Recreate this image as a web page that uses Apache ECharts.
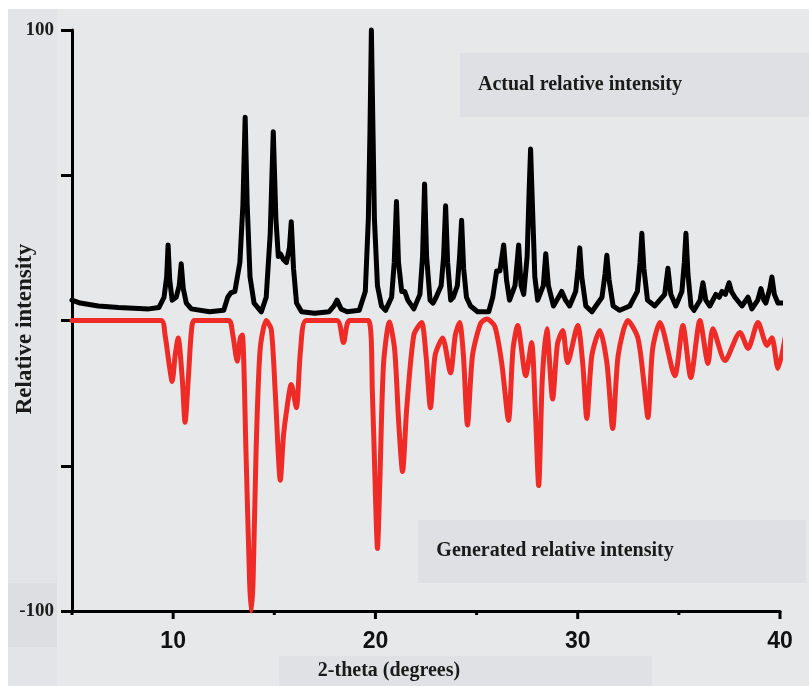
<!DOCTYPE html>
<html>
<head>
<meta charset="utf-8">
<script src="https://cdn.jsdelivr.net/npm/echarts@6/dist/echarts.min.js"></script>
<style>
html,body{margin:0;padding:0;background:#e7e8ea;}
#chart{width:809px;height:686px;}
</style>
</head>
<body>
<div id="chart"></div>
<script>
// 2-theta positions (degrees) and relative intensities
var actualIntensity = [
[5.0,7],[5.4,6],[6.3,5],[7.3,4.5],[8.8,4],[9.3,4.5],
[9.55,8],[9.68,15],[9.75,26],[9.83,14],[9.95,7],
[10.15,8],[10.3,12],[10.4,19.5],[10.5,11],[10.65,6],[10.9,4],
[11.8,3],[12.5,3.5],[12.7,8],[12.85,9.5],[13.05,10],
[13.3,20],[13.45,40],[13.56,70],[13.66,40],[13.8,15],[14.0,6],[14.36,3],
[14.6,8],[14.8,30],[14.95,65],[15.08,35],[15.2,22],[15.3,23],[15.45,21],[15.6,20],
[15.75,25],[15.84,34],[15.95,18],[16.1,6],[16.35,3],
[17.0,2.5],[17.7,3],[17.95,5],[18.1,7],[18.3,4],[18.6,3],[19.2,3.5],
[19.5,10],[19.65,35],[19.73,65],[19.8,100],[19.88,65],[19.95,35],[20.1,12],[20.3,5],[20.5,3.5],
[20.8,8],[20.93,20],[21.04,41],[21.14,20],[21.3,10],[21.45,10],[21.6,7],[21.9,4],
[22.2,9],[22.33,22],[22.43,47],[22.53,22],[22.7,7],[22.85,6],[23.0,8],
[23.25,12],[23.37,22],[23.47,39.5],[23.57,20],[23.72,7],[23.85,8],
[24.05,12],[24.16,22],[24.26,34.5],[24.36,18],[24.5,8],[24.7,5],[25.05,3],[25.6,3],
[25.8,8],[25.99,17],[26.15,17],[26.34,26],[26.48,14],[26.63,7],
[26.9,12],[27.08,26],[27.2,12],[27.33,9],
[27.5,22],[27.6,45],[27.67,59],[27.76,40],[27.88,15],[28.02,7],
[28.3,12],[28.42,23],[28.55,12],[28.8,5],
[29.05,8],[29.21,10],[29.4,7],[29.6,5],
[29.9,10],[30.02,18],[30.1,25],[30.2,15],[30.4,5],[30.7,3],
[31.2,8],[31.35,16],[31.44,22.5],[31.55,14],[31.75,5],[32.08,3.5],[32.57,5],
[32.95,10],[33.08,20],[33.17,30],[33.27,18],[33.45,7],[33.81,5],
[34.3,9],[34.46,18],[34.6,9],[34.85,5],
[35.15,10],[35.27,20],[35.35,30],[35.45,16],[35.6,5],[35.75,3.5],
[36.05,7],[36.19,13],[36.33,7],[36.53,5],[36.83,9],[37.0,8],[37.13,10],[37.3,9],[37.48,13],[37.6,10],[37.77,8],[38.12,5],[38.42,8],[38.61,4],
[38.9,7],[39.06,11],[39.2,7],[39.3,6],[39.5,11],[39.6,15],[39.72,9],[39.9,6],[40.3,6]
];
var generatedIntensity = [
[5,0],[9.4,0],[9.6,-5],[9.8,-15],[9.95,-21],[10.1,-12],[10.25,-6],[10.45,-20],[10.59,-35],[10.75,-20],[10.9,-4],[11.05,0],[12.75,0],[12.95,-5],[13.17,-14],[13.32,-6],[13.42,-5],[13.6,-45],[13.78,-90],[13.86,-100],[13.95,-90],[14.1,-45],[14.3,-10],[14.6,0],[14.85,-3],[15.05,-25],[15.3,-55],[15.45,-40],[15.59,-32],[15.84,-22],[16.09,-30],[16.3,-10],[16.58,0],[18.1,0],[18.42,-7.6],[18.71,0],[19.65,0],[19.85,-25],[20.0,-60],[20.1,-78.5],[20.22,-55],[20.4,-15],[20.69,-0.5],[20.95,-10],[21.15,-35],[21.34,-52],[21.55,-30],[21.9,-5],[22.28,-0.7],[22.5,-12],[22.72,-30],[22.95,-12],[23.32,-6],[23.71,-18],[23.95,-5],[24.16,-0.7],[24.35,-12],[24.55,-36],[24.8,-12],[25.2,-1],[25.5,0.5],[25.9,-2],[26.25,-15],[26.58,-34.4],[26.8,-10],[27.03,-1.7],[27.43,-19],[27.72,-7.6],[27.9,-30],[28.07,-56.8],[28.25,-20],[28.47,-2.8],[28.76,-27],[29.0,-8],[29.26,-3.4],[29.5,-14.5],[30.0,-1.7],[30.25,-15],[30.45,-33.7],[30.7,-12],[31.09,-3.4],[31.45,-15],[31.73,-37.2],[32.0,-12],[32.48,0],[32.97,-5.9],[33.25,-20],[33.47,-33.4],[33.7,-10],[34.06,-0.7],[34.8,-19],[35.2,-1.7],[35.59,-19.6],[36.04,0],[36.44,-14.8],[36.68,-2.8],[37.28,-13.8],[38.02,-4.1],[38.42,-9.6],[38.91,-0.7],[39.36,-8.6],[39.6,-5.9],[39.9,-16.5],[40.3,-4.1]
];
var xMajorTicks = [10, 20, 30, 40];
var xMinorTicks = [5, 15, 25, 35];
var yLabelValues = [100, -100];
var yMin = -100, yMax = 100;
var yAxisTitle = 'Relative intensity';
var xAxisTitle = '2-theta (degrees)';
var actualLabel = 'Actual relative intensity';
var generatedLabel = 'Generated relative intensity';

function tickRenderer(len) {
  return function (params, api) {
    var p = api.coord([api.value(0), yMin]);
    return {
      type: 'line',
      shape: {x1: p[0], y1: p[1], x2: p[0], y2: p[1] + len},
      style: {stroke: '#000', lineWidth: 3}
    };
  };
}

var chart = echarts.init(document.getElementById('chart'), null, {renderer: 'canvas'});
var serifBold = 'bold 20px "Liberation Serif", "Times New Roman", serif';
chart.setOption({
  backgroundColor: '#e7e8ea',
  animation: false,
  grid: {left: 72, right: 29, top: 30, bottom: 75},
  xAxis: {
    type: 'value', min: 5, max: 40, position: 'bottom',
    axisLine: {show: true, onZero: false, lineStyle: {color: '#000', width: 3}},
    axisTick: {show: false},
    axisLabel: {customValues: xMajorTicks, margin: 19, color: '#111',
      fontFamily: '"Liberation Sans", Arial, sans-serif', fontWeight: 'bold', fontSize: 23},
    splitLine: {show: false}
  },
  yAxis: {
    type: 'value', min: yMin, max: yMax, interval: 50,
    axisLine: {show: true, lineStyle: {color: '#000', width: 3}},
    axisTick: {show: true, length: 11, lineStyle: {color: '#000', width: 3}},
    axisLabel: {margin: 18, color: '#1c1c1c', fontFamily: '"Liberation Serif", "Times New Roman", serif',
      fontWeight: 'bold', fontSize: 19,
      formatter: function (v) { return yLabelValues.indexOf(v) >= 0 ? String(v) : ''; }},
    splitLine: {show: false}
  },
  graphic: [
    {type: 'rect', z: -10, shape: {x: 0, y: 0, width: 809, height: 9}, style: {fill: '#ffffff'}},
    {type: 'rect', z: -10, shape: {x: 0, y: 0, width: 8, height: 686}, style: {fill: '#ffffff'}},
    {type: 'rect', z: -9, shape: {x: 8, y: 9, width: 49, height: 677}, style: {fill: '#e3e4e7'}},
    {type: 'rect', z: -8, shape: {x: 8, y: 583, width: 49, height: 64}, style: {fill: '#dddee2'}},
    {type: 'rect', z: -8, shape: {x: 460, y: 53, width: 349, height: 64}, style: {fill: '#dfe0e4'}},
    {type: 'rect', z: -8, shape: {x: 418, y: 520, width: 388, height: 63}, style: {fill: '#dfe0e4'}},
    {type: 'rect', z: -8, shape: {x: 279, y: 656, width: 373, height: 30}, style: {fill: '#e0e1e4'}},
    {type: 'text', x: 25, y: 329, rotation: Math.PI / 2,
      style: {text: yAxisTitle, font: 'bold 23px "Liberation Serif", "Times New Roman", serif',
        fill: '#1a1a1a', textAlign: 'center', textVerticalAlign: 'middle'}},
    {type: 'text', x: 389, y: 671,
      style: {text: xAxisTitle, font: serifBold, fill: '#1a1a1a', textAlign: 'center', textVerticalAlign: 'middle'}},
    {type: 'text', x: 580, y: 85,
      style: {text: actualLabel, font: serifBold, fill: '#1a1a1a', textAlign: 'center', textVerticalAlign: 'middle'}},
    {type: 'text', x: 555, y: 551,
      style: {text: generatedLabel, font: serifBold, fill: '#1a1a1a', textAlign: 'center', textVerticalAlign: 'middle'}}
  ],
  series: [{
    name: 'Generated', type: 'line', data: generatedIntensity, showSymbol: false,
    smooth: 0.25, clip: false, z: 3,
    lineStyle: {color: '#ee2b26', width: 5, join: 'round', cap: 'round'}
  }, {
    name: 'Actual', type: 'line', data: actualIntensity, showSymbol: false,
    smooth: false, clip: false, z: 4,
    lineStyle: {color: '#000000', width: 5, join: 'round', cap: 'round'}
  }, {
    name: 'majorTicks', type: 'custom', clip: false, silent: true, z: 5,
    data: xMajorTicks.map(function (v) { return [v]; }),
    encode: {x: 0},
    renderItem: tickRenderer(8)
  }, {
    name: 'minorTicks', type: 'custom', clip: false, silent: true, z: 5,
    data: xMinorTicks.map(function (v) { return [v]; }),
    encode: {x: 0},
    renderItem: tickRenderer(4)
  }]
});
</script>
</body>
</html>
